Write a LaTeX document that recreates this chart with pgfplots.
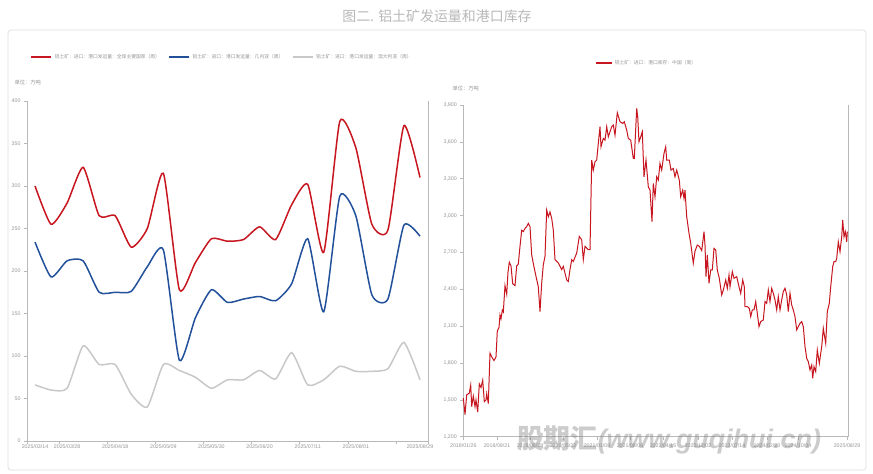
\documentclass[border=0pt]{standalone}
\usepackage{fontspec}
\usepackage{pgfplots}
\pgfplotsset{compat=1.18}
\setmainfont{Liberation Sans}
\newfontfamily\cjk{Noto Sans CJK SC}
\definecolor{cred}{RGB}{200,22,32}
\definecolor{cblue}{RGB}{34,80,155}
\definecolor{cgray}{RGB}{200,200,200}
\definecolor{ctick}{RGB}{150,150,150}
\definecolor{caxis}{RGB}{185,185,185}
\pgfplotsset{
  common/.style={
    scale only axis,
    axis x line*=bottom, axis y line*=left,
    axis line style={caxis, line width=0.8bp},
    tick style={caxis, line width=0.6bp},
    tick align=outside, major tick length=3bp,
    ticklabel style={font=\fontsize{5.3}{6}\selectfont, text=ctick},
    /pgf/number format/assume math mode=true,
    /pgf/number format/1000 sep={,},
    legend style={draw=none, fill=none, font=\cjk\fontsize{4.8}{5}\selectfont, text=ctick,
      /tikz/every even column/.append style={column sep=6bp}},
    legend cell align=left,
    legend image code/.code={\draw[line width=2.6bp] (0bp,0bp) -- (20bp,0bp);},
  }
}
\begin{document}
\begin{tikzpicture}
\path[use as bounding box] (0,0) rectangle (873bp,-474bp);
\fill[white] (0,0) rectangle (873bp,-474bp);
\node[text=gray!55, font=\cjk\fontsize{14}{14}\selectfont] at (437bp,-16bp) {图二. 铝土矿发运量和港口库存};
\draw[gray!25, line width=0.8bp, rounded corners=3bp] (8bp,-30bp) rectangle (866bp,-470bp);
\node[anchor=west, text=ctick, font=\cjk\fontsize{5.3}{6}\selectfont] at (11bp,-82bp) {单位：万吨};
\node[anchor=west, text=ctick, font=\cjk\fontsize{5.3}{6}\selectfont] at (449bp,-88bp) {单位：万吨};

% ---------- left chart ----------
\begin{axis}[common,
  width=401bp, height=340bp, at={(27bp,-441bp)}, anchor=south west,
  xmin=-0.5, xmax=24.5, ymin=0, ymax=400,
  ytick={0,50,...,400},
  xtick={-0.5,1.5,4.5,7.5,10.5,13.5,16.5,19.5,22.5,24.5},
  xticklabels={},
  extra x ticks={0,2,5,8,11,14,17,20,24},
  extra x tick labels={2025/03/14,2025/03/28,2025/04/18,2025/05/09,2025/05/30,2025/06/20,2025/07/11,2025/08/01,2025/08/29},
  extra x tick style={major tick length=0pt},
  legend columns=3,
  legend style={at={(axis description cs:0.0,1.13)}, anchor=west},
  clip=false,
]
\addplot[cred, line width=1.5bp, smooth, tension=0.35] coordinates {
(0,300)(1,255)(2,280)(3,322)(4,265)(5,265)(6,228)(7,250)(8,315)(9,178)(10,210)(11,238)(12,235)
(13,237)(14,252)(15,237)(16,278)(17,302)(18,222)(19,376)(20,345)(21,255)(22,248)(23,371)(24,310)};
\addlegendentry{铝土矿：进口：港口发运量：全球主要国家（周）}
\addplot[cblue, line width=1.5bp, smooth, tension=0.35] coordinates {
(0,234)(1,193)(2,212)(3,212)(4,175)(5,175)(6,176)(7,205)(8,225)(9,95)(10,145)(11,178)(12,163)
(13,167)(14,170)(15,165)(16,185)(17,238)(18,152)(19,288)(20,265)(21,172)(22,167)(23,254)(24,241)};
\addlegendentry{铝土矿：进口：港口发运量：几内亚（周）}
\addplot[cgray, line width=1.5bp, smooth, tension=0.35] coordinates {
(0,66)(1,60)(2,62)(3,112)(4,90)(5,90)(6,55)(7,40)(8,90)(9,83)(10,75)(11,62)(12,72)
(13,72)(14,83)(15,73)(16,104)(17,66)(18,72)(19,88)(20,82)(21,82)(22,85)(23,116)(24,72)};
\addlegendentry{铝土矿：进口：港口发运量：澳大利亚（周）}
\draw[caxis, line width=0.8bp] (rel axis cs:1,0) -- (rel axis cs:1,1);
\end{axis}

% ---------- right chart ----------
\begin{axis}[common,
  width=385bp, height=331.7bp, at={(463.3bp,-436.7bp)}, anchor=south west,
  xmin=0, xmax=385, ymin=1200, ymax=3900,
  ytick={1200,1500,...,3900},
  xtick={0,33.7,66.7,99.7,133.7,166.7,199.7,234.7,268.7,303.7,334.7,383.7},
  xticklabels={2018/01/26,2018/09/21,2019/06/28,2020/05/22,2021/01/08,2021/08/06,2022/04/15,2022/12/02,2023/07/14,2024/02/23,2024/10/04,2025/08/29},
  legend style={at={(axis description cs:0.475,1.127)}, anchor=center},
  legend image code/.code={\draw[line width=2.6bp] (0bp,0bp) -- (16bp,0bp);},
  clip=false,
]
\addplot[cred, line width=1bp] coordinates {
(0,1515)(1.7,1380)(3.4,1540)(6,1555)(7.4,1620)(8.4,1445)(10,1530)(11.7,1445)(12.7,1500)(14.4,1400)
(16,1630)(17.7,1600)(19.4,1660)(21,1485)(22.7,1500)(23.4,1550)(25,1470)(26.7,1880)(28.4,1850)(30.7,1820)
(32.7,1850)(34,2060)(35.7,2090)(36.7,2190)(37.7,2160)(39,2230)(40,2215)(41.7,2430)(43.4,2360)(44.7,2540)
(46,2620)(47.7,2590)(49.4,2445)(51.7,2430)(53.4,2590)(55,2605)(56.7,2750)(58.4,2880)(60,2870)(61.7,2895)
(63.4,2910)(65,2937)(66.7,2910)(68.4,2680)(70,2610)(72.7,2505)(75,2420)(76.7,2218)(78.4,2450)(80,2600)
(81.7,2668)(83.4,3045)(85,2990)(86.7,3030)(88.4,2977)(90,2883)(91.7,2641)(95,2614)(98.4,2560)(100,2587)
(103.4,2476)(105,2463)(106.7,2560)(108.4,2641)(110,2627)(113.4,2695)(116,2830)(118.4,2803)(120,2641)(121.7,2749)
(125,2722)(126.7,2722)(128.4,3452)(130,3370)(131.7,3438)(133.4,3452)(135,3587)(136.7,3723)(137.7,3560)(140,3628)
(141.7,3614)(143.4,3723)(145,3641)(146.7,3682)(148.4,3723)(150,3737)(151.7,3655)(154,3837)(156.7,3764)(159.4,3750)
(161,3764)(163.4,3696)(165,3628)(167.4,3614)(170,3465)(171,3465)(173.4,3873)(174.4,3805)(175.7,3600)(177.4,3641)
(179,3682)(180.7,3316)(182.7,3452)(185,3234)(186.7,3207)(188.7,2950)(190,3262)(191.7,3153)(193.4,3316)(195,3289)
(196.7,3425)(198.4,3370)(200.7,3506)(202.4,3560)(203.4,3452)(206,3452)(207.7,3370)(210,3384)(211.7,3316)(213.4,3370)
(216,3289)(217.4,3153)(219.4,3207)(220.7,3139)(221.7,3207)(223.4,2991)(225.7,2856)(227.4,2776)(230,2612)(231.7,2710)
(234,2760)(236,2750)(238.4,2715)(239.7,2800)(240.7,2869)(241.7,2760)(242.7,2503)(244,2679)(245.7,2449)(247.4,2557)
(249,2557)(250.7,2733)(252.4,2720)(254,2557)(256,2489)(258.4,2354)(260,2394)(262.4,2476)(264,2408)(265.7,2516)
(266.7,2421)(269,2543)(270.7,2489)(273.4,2503)(275.7,2421)(277.4,2367)(279.4,2476)(281,2421)(281.7,2259)(284,2259)
(286,2245)(287.4,2177)(289,2232)(290.7,2232)(292.4,2300)(294,2204)(295.7,2096)(297.4,2137)(300,2150)(301.7,2300)
(303.4,2286)(305,2394)(306.7,2300)(308.4,2408)(310,2367)(311.7,2313)(313.4,2232)(315,2340)(316.7,2232)(318.4,2313)
(320,2381)(321.7,2408)(323.4,2354)(325,2218)(326.7,2367)(328.4,2272)(330,2232)(331.7,2177)(333.4,2069)(335,2096)
(336.7,2123)(338.4,2137)(340,2096)(341.7,1933)(343.4,1838)(345,1811)(346.7,1743)(348.4,1784)(349.4,1676)(350.7,1770)
(352.4,1730)(354,1906)(356,1797)(358.4,1933)(360,2082)(362.4,1960)(364,2218)(366,2286)(367.4,2421)(369.4,2584)
(370.7,2625)(372.4,2625)(373.4,2652)(375,2787)(376.7,2706)(378.4,2828)(379.4,2964)(380.7,2828)(382,2869)(383.4,2787)(384,2869)};
\addlegendentry{铝土矿：进口：港口库存：中国（周）}
\draw[caxis, line width=0.8bp] (rel axis cs:1,0) -- (rel axis cs:1,1);
\end{axis}

% watermark
\node[text=gray, opacity=0.4, font=\fontsize{27}{27}\selectfont\bfseries\itshape] at (669bp,-440bp)
  {{\cjk\bfseries 股期汇}(www.guqihui.cn)};
\end{tikzpicture}
\end{document}
